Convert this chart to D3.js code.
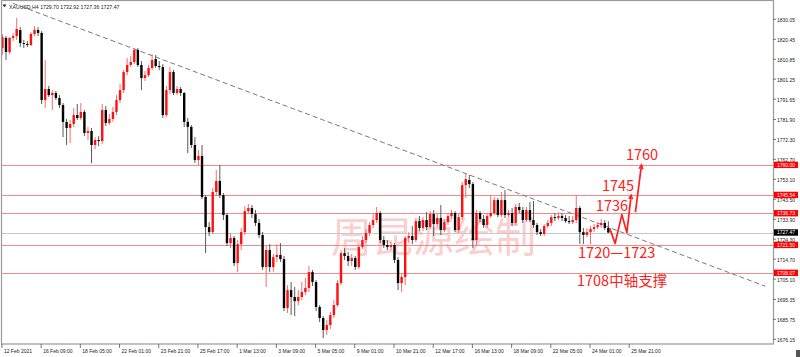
<!DOCTYPE html>
<html><head><meta charset="utf-8">
<script src="https://cdn.jsdelivr.net/npm/d3@7"></script>
<style>body{margin:0;background:#fff;overflow:hidden}svg{display:block}</style>
</head><body>
<svg id="c" width="800" height="357"></svg>
<script>
// ---------- DATA (XAUUSD, H4) ----------
const symbolTitle = "XAUUSD,H4";
const openP = [
1816.2,1821.1,1814.3,1821.1,1822.0,1824.9,1818.6,1818.2,1817.7,1823.0,
1824.9,1823.5,1791.2,1796.5,1793.6,1794.6,1792.2,1788.8,1780.7,1777.8,
1779.7,1784.0,1782.6,1785.5,1775.4,1776.3,1769.6,1772.0,1771.5,1786.4,
1780.2,1782.1,1785.5,1791.2,1796.0,1804.7,1808.1,1809.5,1815.3,1808.1,
1801.8,1803.2,1806.6,1810.9,1807.6,1807.1,1784.0,1796.0,1804.7,1794.6,
1796.5,1794.6,1780.7,1778.3,1769.6,1762.4,1764.3,1744.6,1730.1,1727.7,
1747.0,1752.3,1745.5,1735.9,1722.4,1724.9,1712.8,1721.9,1727.7,1737.8,
1739.3,1736.4,1732.1,1726.3,1710.9,1719.1,1710.9,1715.7,1716.7,1714.7,
1691.2,1699.8,1696.5,1694.5,1696.5,1698.9,1700.8,1708.5,1703.7,1691.7,
1686.4,1680.6,1683.0,1687.8,1692.6,1703.2,1717.6,1716.2,1713.8,1715.2,
1710.9,1720.5,1723.9,1727.3,1731.1,1733.5,1736.9,1723.9,1721.5,1720.5,
1721.5,1714.3,1703.2,1706.1,1724.9,1725.8,1723.9,1733.0,1729.7,1733.5,
1730.1,1736.4,1731.6,1734.5,1728.7,1732.5,1735.4,1736.9,1728.7,1734.9,
1750.3,1752.8,1750.8,1723.9,1736.9,1734.0,1731.1,1735.4,1736.9,1743.1,
1735.9,1743.1,1735.9,1736.9,1732.1,1739.8,1738.3,1733.5,1738.3,1733.5,
1731.1,1727.7,1726.8,1730.6,1732.1,1734.9,1734.5,1735.4,1734.5,1733.0,
1732.5,1733.5,1739.3,1727.7,1726.3,1727.7,1729.2,1730.1,1731.1,1732.1,
1729.70];
const highP = [
1823.0,1822.0,1821.5,1823.5,1830.7,1826.3,1820.1,1819.6,1823.9,1826.8,
1826.3,1824.4,1810.5,1798.0,1796.0,1795.6,1793.6,1789.8,1782.1,1781.6,
1787.4,1789.3,1789.8,1786.4,1778.3,1777.8,1773.4,1773.9,1789.3,1788.3,
1784.5,1787.9,1793.6,1798.9,1805.7,1811.4,1812.4,1816.2,1816.2,1810.0,
1805.2,1808.1,1813.3,1812.9,1810.0,1808.5,1798.0,1807.1,1805.7,1798.0,
1797.5,1795.1,1782.6,1779.2,1773.4,1767.2,1769.6,1745.5,1732.5,1748.9,
1757.6,1759.9,1746.5,1736.9,1727.3,1725.8,1723.9,1729.7,1740.2,1741.2,
1740.7,1738.3,1734.0,1727.7,1721.0,1721.9,1717.2,1721.9,1722.4,1716.2,
1702.2,1703.7,1701.3,1699.8,1703.7,1705.6,1711.4,1709.5,1704.6,1692.6,
1687.3,1685.4,1689.3,1695.0,1704.6,1719.1,1720.0,1718.1,1717.2,1716.2,
1721.5,1725.8,1729.2,1732.5,1736.4,1739.8,1737.8,1725.8,1723.9,1722.9,
1722.4,1715.7,1707.5,1725.8,1727.7,1730.6,1734.5,1735.4,1734.9,1737.3,
1737.8,1738.3,1736.4,1740.7,1734.0,1736.9,1738.3,1737.8,1736.4,1751.8,
1755.6,1755.2,1751.8,1738.3,1737.8,1735.9,1736.9,1745.5,1744.6,1744.1,
1747.0,1747.9,1738.3,1739.3,1741.2,1741.7,1739.8,1739.8,1742.2,1742.7,
1732.1,1729.2,1731.6,1733.5,1735.9,1736.9,1737.3,1736.9,1735.9,1735.4,
1735.4,1745.5,1740.2,1729.7,1729.7,1730.6,1731.6,1732.5,1734.0,1733.5,
1732.92];
const lowP = [
1812.9,1810.5,1813.3,1819.6,1820.1,1816.7,1816.2,1816.7,1817.2,1822.0,
1822.0,1789.3,1787.4,1792.7,1786.4,1791.2,1787.4,1773.4,1769.6,1770.5,
1778.3,1781.6,1781.6,1773.9,1772.0,1760.9,1767.7,1769.1,1770.1,1778.7,
1779.2,1780.7,1784.0,1789.8,1794.6,1803.2,1807.1,1808.5,1807.1,1796.0,
1800.4,1802.3,1805.7,1806.6,1805.7,1782.6,1783.1,1794.1,1793.6,1793.6,
1793.2,1778.3,1765.7,1768.1,1760.9,1759.9,1743.6,1717.6,1725.8,1726.8,
1745.1,1744.1,1733.5,1721.0,1720.0,1711.4,1708.5,1719.1,1726.3,1736.4,
1734.5,1730.6,1724.9,1709.5,1701.3,1708.5,1708.5,1713.3,1713.3,1689.7,
1688.8,1687.8,1687.3,1692.6,1695.0,1697.4,1698.9,1701.8,1689.7,1684.5,
1676.7,1678.2,1681.1,1686.4,1691.7,1702.2,1714.3,1711.4,1711.4,1709.5,
1709.9,1719.6,1722.4,1725.8,1729.7,1732.1,1722.4,1720.0,1719.1,1719.1,
1712.8,1699.8,1698.9,1702.2,1722.4,1721.9,1722.9,1728.2,1728.2,1728.7,
1729.2,1725.8,1730.1,1726.3,1727.7,1731.1,1734.0,1727.7,1727.3,1733.5,
1744.1,1748.9,1720.0,1721.5,1732.5,1729.7,1729.7,1734.5,1735.9,1734.9,
1734.9,1734.5,1734.9,1730.6,1731.1,1736.9,1732.1,1732.5,1732.5,1729.7,
1726.3,1725.8,1725.8,1729.7,1730.6,1733.0,1733.5,1733.0,1732.1,1731.6,
1731.6,1732.1,1721.9,1721.9,1725.3,1721.9,1727.7,1729.2,1729.7,1728.7,
1727.36];
const closeP = [
1821.5,1814.3,1821.1,1822.0,1825.4,1818.6,1818.2,1817.7,1823.0,1824.9,
1823.5,1791.2,1796.5,1793.6,1794.6,1792.2,1788.8,1780.7,1777.8,1779.7,
1784.0,1782.6,1785.5,1775.4,1776.3,1769.6,1772.0,1771.5,1786.4,1780.2,
1782.1,1785.5,1791.2,1796.0,1804.7,1808.1,1809.5,1815.3,1808.1,1801.8,
1803.2,1806.6,1810.5,1807.6,1807.1,1784.0,1796.0,1804.7,1794.6,1796.5,
1794.6,1780.7,1778.3,1769.6,1762.4,1764.3,1744.6,1730.1,1727.7,1747.0,
1752.3,1745.5,1735.9,1722.4,1724.9,1712.8,1721.9,1727.7,1737.8,1739.3,
1736.4,1732.1,1726.3,1710.9,1719.1,1710.9,1715.7,1716.7,1714.7,1691.2,
1699.8,1696.5,1694.5,1696.5,1698.9,1700.8,1708.5,1703.7,1691.7,1686.4,
1680.6,1683.0,1687.8,1692.6,1703.2,1717.6,1716.2,1713.8,1715.2,1710.9,
1720.5,1723.9,1727.3,1731.1,1733.5,1736.9,1723.9,1721.5,1720.5,1721.5,
1714.3,1703.2,1706.1,1724.9,1725.8,1723.9,1733.0,1729.7,1733.5,1730.1,
1736.4,1731.6,1734.5,1728.7,1732.5,1735.4,1736.9,1728.7,1734.9,1750.3,
1753.2,1750.8,1723.9,1736.9,1734.0,1731.1,1735.4,1736.9,1743.1,1735.9,
1743.1,1735.9,1736.9,1732.1,1739.8,1738.3,1733.5,1738.3,1733.5,1731.1,
1727.7,1726.8,1730.6,1732.1,1734.9,1734.5,1735.4,1734.5,1733.0,1732.5,
1733.5,1739.3,1727.7,1726.3,1727.7,1729.2,1730.1,1731.1,1732.1,1729.7,
1727.47];
const priceTicks = ["1830.05","1820.45","1810.85","1801.25","1791.65","1781.90","1772.30","1762.70",
  "1753.10","1743.50","1733.90","1724.30","1714.70","1705.10","1695.35","1685.75","1676.15"];
const timeLabels = ["12 Feb 2021","16 Feb 09:00","18 Feb 05:00","22 Feb 01:00","23 Feb 21:00",
  "25 Feb 17:00","1 Mar 13:00","3 Mar 09:00","5 Mar 05:00","9 Mar 01:00","10 Mar 21:00",
  "12 Mar 17:00","16 Mar 13:00","18 Mar 09:00","22 Mar 05:00","24 Mar 01:00","25 Mar 21:00"];
const barsPerTimeLabel = 11;
const levelPrices = [1760.00, 1745.54, 1736.73, 1721.50, 1708.07];
const lastPrice = 1727.47;
// trend line (bar index, price)
const trendBars = [3, 214];
const trendPrices = [1837.7, 1701.7];
// hand-drawn forecast strokes (bar index, price)
const fcA_bars = [170.4, 171.9, 173.8, 175.2, 176.4];
const fcA_prices = [1729.5, 1722.2, 1736.1, 1727.5, 1745.5];
const fcB_bars = [177.6, 179.3];
const fcB_prices = [1737.3, 1760.0];
// annotation texts with anchor (bar index, price)
const noteTexts = ["1760", "1745", "1736", "1720\u20141723", "1708中轴支撑"];
const noteBars = [174.95, 168.2, 166.5, 161.5, 161.2];
const notePrices = [1762.6, 1747.5, 1737.9, 1715.3, 1701.6];
const watermark = "周昆源绘制";

// ---------- CHART ----------
const svg = d3.select("#c");
const W = 800, H = 357;
const plotL = 1, plotR = 773, plotT = 1, plotB = 344;
const x = d3.scaleLinear().domain([-0.4, 216.2]).range([plotL, plotR]);
const y = d3.scaleLinear().domain([1676.15, 1830.05]).range([339.3, 19.3]);

svg.append("rect").attr("width", W).attr("height", H).attr("fill", "#fff");
svg.append("defs").append("clipPath").attr("id", "clip")
  .append("rect").attr("x", plotL).attr("y", plotT).attr("width", plotR - plotL).attr("height", plotB - plotT);

const plot = svg.append("g").attr("clip-path", "url(#clip)");

// watermark
plot.append("text").attr("x", x(92.2)).attr("y", y(1718.1))
  .attr("font-family", "'Noto Sans CJK SC'").attr("font-size", 41)
  .attr("fill", "#f9cfcf").text(watermark);

// level lines
plot.selectAll("line.lvl").data(levelPrices).join("line").attr("class", "lvl")
  .attr("x1", plotL).attr("x2", plotR)
  .attr("y1", d => Math.round(y(d)) + 0.5).attr("y2", d => Math.round(y(d)) + 0.5)
  .attr("stroke", "#f08c8c").attr("stroke-width", 1);
plot.append("line").attr("x1", plotL).attr("x2", plotR)
  .attr("y1", Math.round(y(lastPrice)) + 0.5).attr("y2", Math.round(y(lastPrice)) + 0.5)
  .attr("stroke", "#c8c8c8").attr("stroke-width", 1);

// trend line
plot.append("line")
  .attr("x1", x(trendBars[0])).attr("y1", y(trendPrices[0]))
  .attr("x2", x(trendBars[1])).attr("y2", y(trendPrices[1]))
  .attr("stroke", "#7a7a7a").attr("stroke-width", 1).attr("stroke-dasharray", "5,3");

// candles
const candles = openP.map((o, i) => ({i, o, h: highP[i], l: lowP[i], c: closeP[i]}));
const bw = 2.4;
const cg = plot.append("g");
cg.selectAll("line.wick").data(candles).join("line").attr("class", "wick")
  .attr("x1", d => x(d.i)).attr("x2", d => x(d.i))
  .attr("y1", d => y(d.h)).attr("y2", d => y(d.l))
  .attr("stroke", d => d.c >= d.o ? "#f07070" : "#5a5a5a").attr("stroke-width", 1);
cg.selectAll("rect.body").data(candles).join("rect").attr("class", "body")
  .attr("x", d => x(d.i) - bw / 2).attr("width", bw)
  .attr("y", d => y(Math.max(d.o, d.c)))
  .attr("height", d => Math.max(0.9, Math.abs(y(d.o) - y(d.c))))
  .attr("fill", d => d.c >= d.o ? "#ff1010" : "#000");

// forecast strokes with arrowheads
const red = "#ff2020";
function stroke(bars, prices) {
  const pts = bars.map((b, k) => [x(b), y(prices[k])]);
  plot.append("path").attr("d", d3.line()(pts)).attr("fill", "none")
    .attr("stroke", red).attr("stroke-width", 1.7).attr("stroke-linejoin", "round");
  const [p1, p2] = pts.slice(-2);
  const ang = Math.atan2(p2[1] - p1[1], p2[0] - p1[0]);
  const L = 4.5, A = 0.45;
  const head = [[p2[0] - L * Math.cos(ang - A), p2[1] - L * Math.sin(ang - A)], p2,
                [p2[0] - L * Math.cos(ang + A), p2[1] - L * Math.sin(ang + A)]];
  plot.append("path").attr("d", d3.line()(head)).attr("fill", "none")
    .attr("stroke", red).attr("stroke-width", 1.4);
}
stroke(fcA_bars, fcA_prices);
stroke(fcB_bars, fcB_prices);

// annotations
plot.selectAll("text.note").data(noteTexts).join("text").attr("class", "note")
  .attr("x", (d, k) => x(noteBars[k])).attr("y", (d, k) => y(notePrices[k]))
  .attr("font-family", "'Noto Sans CJK SC'").attr("font-size", 14.5)
  .attr("fill", red).text(d => d);

// frame
svg.append("rect").attr("x", plotL + 0.5).attr("y", plotT - 0.5).attr("width", plotR - plotL)
  .attr("height", plotB - plotT + 0.5).attr("fill", "none").attr("stroke", "#9a9a9a").attr("stroke-width", 1.2);

// header
svg.append("path").attr("d", "M2.5,4.5 L6.5,4.5 L4.5,7.2 Z").attr("fill", "#222");
svg.append("text").attr("x", 9).attr("y", 9)
  .attr("font-family", "'Liberation Sans', Arial").attr("font-size", 5.2).attr("fill", "#222")
  .text(symbolTitle + " " + [openP.at(-1), highP.at(-1), lowP.at(-1), closeP.at(-1)].map(v => v.toFixed(2)).join(" "));

// right axis
const ax = svg.append("g").attr("font-family", "'Liberation Sans', Arial").attr("font-size", 5);
ax.selectAll("line.pt").data(priceTicks).join("line").attr("class", "pt")
  .attr("x1", plotR).attr("x2", plotR + 3)
  .attr("y1", d => y(+d)).attr("y2", d => y(+d)).attr("stroke", "#555").attr("stroke-width", 0.8);
ax.selectAll("text.pt").data(priceTicks).join("text").attr("class", "pt")
  .attr("x", plotR + 4).attr("y", d => y(+d)).attr("dy", "0.5em").attr("fill", "#222").text(d => d);

// price boxes
const boxes = levelPrices.map(v => ({v, fill: "#ff0000"})).concat([{v: lastPrice, fill: "#000"}]);
ax.selectAll("rect.bx").data(boxes).join("rect").attr("class", "bx")
  .attr("x", plotR + 1).attr("width", 24).attr("y", d => y(d.v) - 3.3).attr("height", 6.4)
  .attr("fill", d => d.fill);
ax.selectAll("text.bx").data(boxes).join("text").attr("class", "bx")
  .attr("x", plotR + 4).attr("y", d => y(d.v)).attr("dy", "0.36em").attr("fill", "#fff")
  .text(d => d.v.toFixed(2));

// bottom axis
const tb = timeLabels.map((t, k) => ({t, b: k * barsPerTimeLabel}));
ax.selectAll("line.tt").data(tb).join("line").attr("class", "tt")
  .attr("x1", d => x(d.b) - 0.5).attr("x2", d => x(d.b) - 0.5)
  .attr("y1", plotB).attr("y2", plotB + 4).attr("stroke", "#555").attr("stroke-width", 0.8);
ax.selectAll("text.tt").data(tb).join("text").attr("class", "tt")
  .attr("x", d => x(d.b) + 1.5).attr("y", plotB + 8.5).attr("fill", "#222").text(d => d.t);

// corner marker
svg.append("rect").attr("x", 796).attr("y", 350).attr("width", 4).attr("height", 7).attr("fill", "#555");
</script>
</body></html>
